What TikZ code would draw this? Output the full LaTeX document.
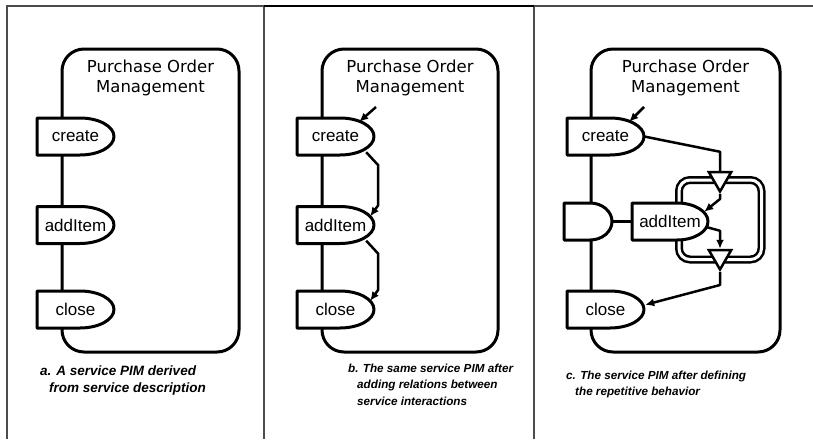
\documentclass[tikz,border=0pt]{standalone}
\usepackage{fontspec}
\setmainfont{Liberation Sans}
\newfontfamily\titlefont{DejaVu Sans}
\usepackage{tikz}
\usetikzlibrary{arrows.meta, positioning, calc, shapes.geometric}
\tikzset{
  frameline/.style={line width=1.4pt, color=black!70},
  container/.style={draw, line width=3pt, rounded corners=22pt, fill=white},
  portline/.style={line width=3pt, fill=white, line join=round},
  portlabel/.style={inner sep=0pt, minimum height=37pt,
    font=\fontsize{17}{20}\selectfont},
  title/.style={anchor=north, inner sep=0pt, align=center,
    font=\titlefont\fontsize{16.5}{19.5}\selectfont},
  caption/.style={anchor=north west, inner sep=0pt, align=left,
    font=\bfseries\itshape\fontsize{13.5}{16.5}\selectfont},
  smallcaption/.style={caption,
    font=\bfseries\itshape\fontsize{11.7}{16.3}\selectfont},
  flow/.style={line width=2.5pt, line join=round},
  arrow/.style={flow, -{Latex[length=9pt, width=8pt]}},
  loopbox/.style={draw, double, line width=2.5pt, double distance=3pt,
    rounded corners=11pt},
  mergetri/.style={regular polygon, regular polygon sides=3,
    shape border rotate=180, draw, line width=2.5pt, fill=white,
    minimum size=26pt, inner sep=0pt}
}
% port: name, left, top, straight part, bulge, label
\newcommand{\servport}[6]{%
  \draw[portline] (#2,#3) -- ++(#4,0)
    arc[start angle=-90, end angle=90, x radius=#5, y radius=18.5]
    -- ++(-#4,0) -- cycle;
  \node[portlabel, minimum width=#4+#5] (#1) at ({#2+(#4+#5)/2}, #3+18.5) {#6};
}

\begin{document}
\begin{tikzpicture}[x=1pt, y=-1pt]
  \useasboundingbox (0,0) rectangle (813,439);

  % Frame
  \draw[frameline] (813,6) -- (7,6) -- (7,439);
  \draw[frameline] (264,6) -- (264,439);
  \draw[frameline] (534,6) -- (534,439);
  \draw[line width=2.6pt] (264,6) -- (534,6);

  % Panel a
  \draw[container] (62,49) rectangle (239,352);
  \node[title] (titleA) at (150.5,60) {Purchase Order\\Management};
  \servport{createA}{37}{118}{43}{34}{create}
  \servport{additemA}{37}{206.5}{43}{34}{addItem}
  \servport{closeA}{37}{291}{43}{34}{close}
  \node[caption] (capA) at (40,366) {a. A service PIM derived\\\hspace*{9pt}from service description};

  % Panel b
  \draw[container] (322,49) rectangle (498,352);
  \node[title] (titleB) at (410,60) {Purchase Order\\Management};
  \servport{createB}{297}{118}{43}{34}{create}
  \servport{additemB}{297}{206.5}{43}{34}{addItem}
  \servport{closeB}{297}{291}{43}{34}{close}
  \coordinate (entryB) at (376,107);
  \draw[arrow] (entryB) -- ($(createB.north east)+(-15,4)$);
  \draw[arrow] ($(createB.south east)+(-8,-3)$) -- ++(12,13)
    -- ($(additemB.north east)+(4,-1)$) -- ($(additemB.north east)+(-4,10)$);
  \draw[arrow] ($(additemB.south east)+(-8,-3)$) -- ++(12,13)
    -- ($(closeB.north east)+(4,-1)$) -- ($(closeB.north east)+(-4,10)$);
  \node[smallcaption] (capB) at (348,364) {b. The same service PIM after\\\hspace*{9pt}adding relations between\\\hspace*{9pt}service interactions};

  % Panel c
  \draw[container] (591,49) rectangle (780,352);
  \node[title] (titleC) at (685.5,60) {Purchase Order\\Management};
  \servport{createC}{567}{118}{43}{34}{create}
  \servport{inportC}{564}{203}{26}{22}{}
  \draw[loopbox] (679,180) rectangle (761.5,259.5);
  \servport{additemC}{632}{203}{45}{31}{addItem}
  \node[mergetri] (loopin) at (720,178.5) {};
  \node[mergetri] (loopout) at (720,256.5) {};
  \servport{closeC}{567}{291}{43}{34}{close}
  \coordinate (entryC) at (644,107);
  \draw[arrow] (entryC) -- ($(createC.north east)+(-15,4)$);
  \draw[flow] (inportC.east) -- (additemC.west);
  \draw[flow] (createC.east) -- ($(loopin.north)+(0,-19)$) -- (loopin.north);
  \draw[arrow] (loopin.south) -- ++(0,5) -- ($(additemC.north east)+(-4,9)$);
  \draw[arrow] ($(additemC.east)+(-2,5.5)$) -- ($(loopout.north)+(0,-18)$) -- (loopout.north);
  \draw[arrow] (loopout.south) -- ++(0,13) -- ($(closeC.north east)+(1,14)$);
  \node[smallcaption] (capC) at (566,371) {c. The service PIM after defining\\\hspace*{9pt}the repetitive behavior};
\end{tikzpicture}
\end{document}
